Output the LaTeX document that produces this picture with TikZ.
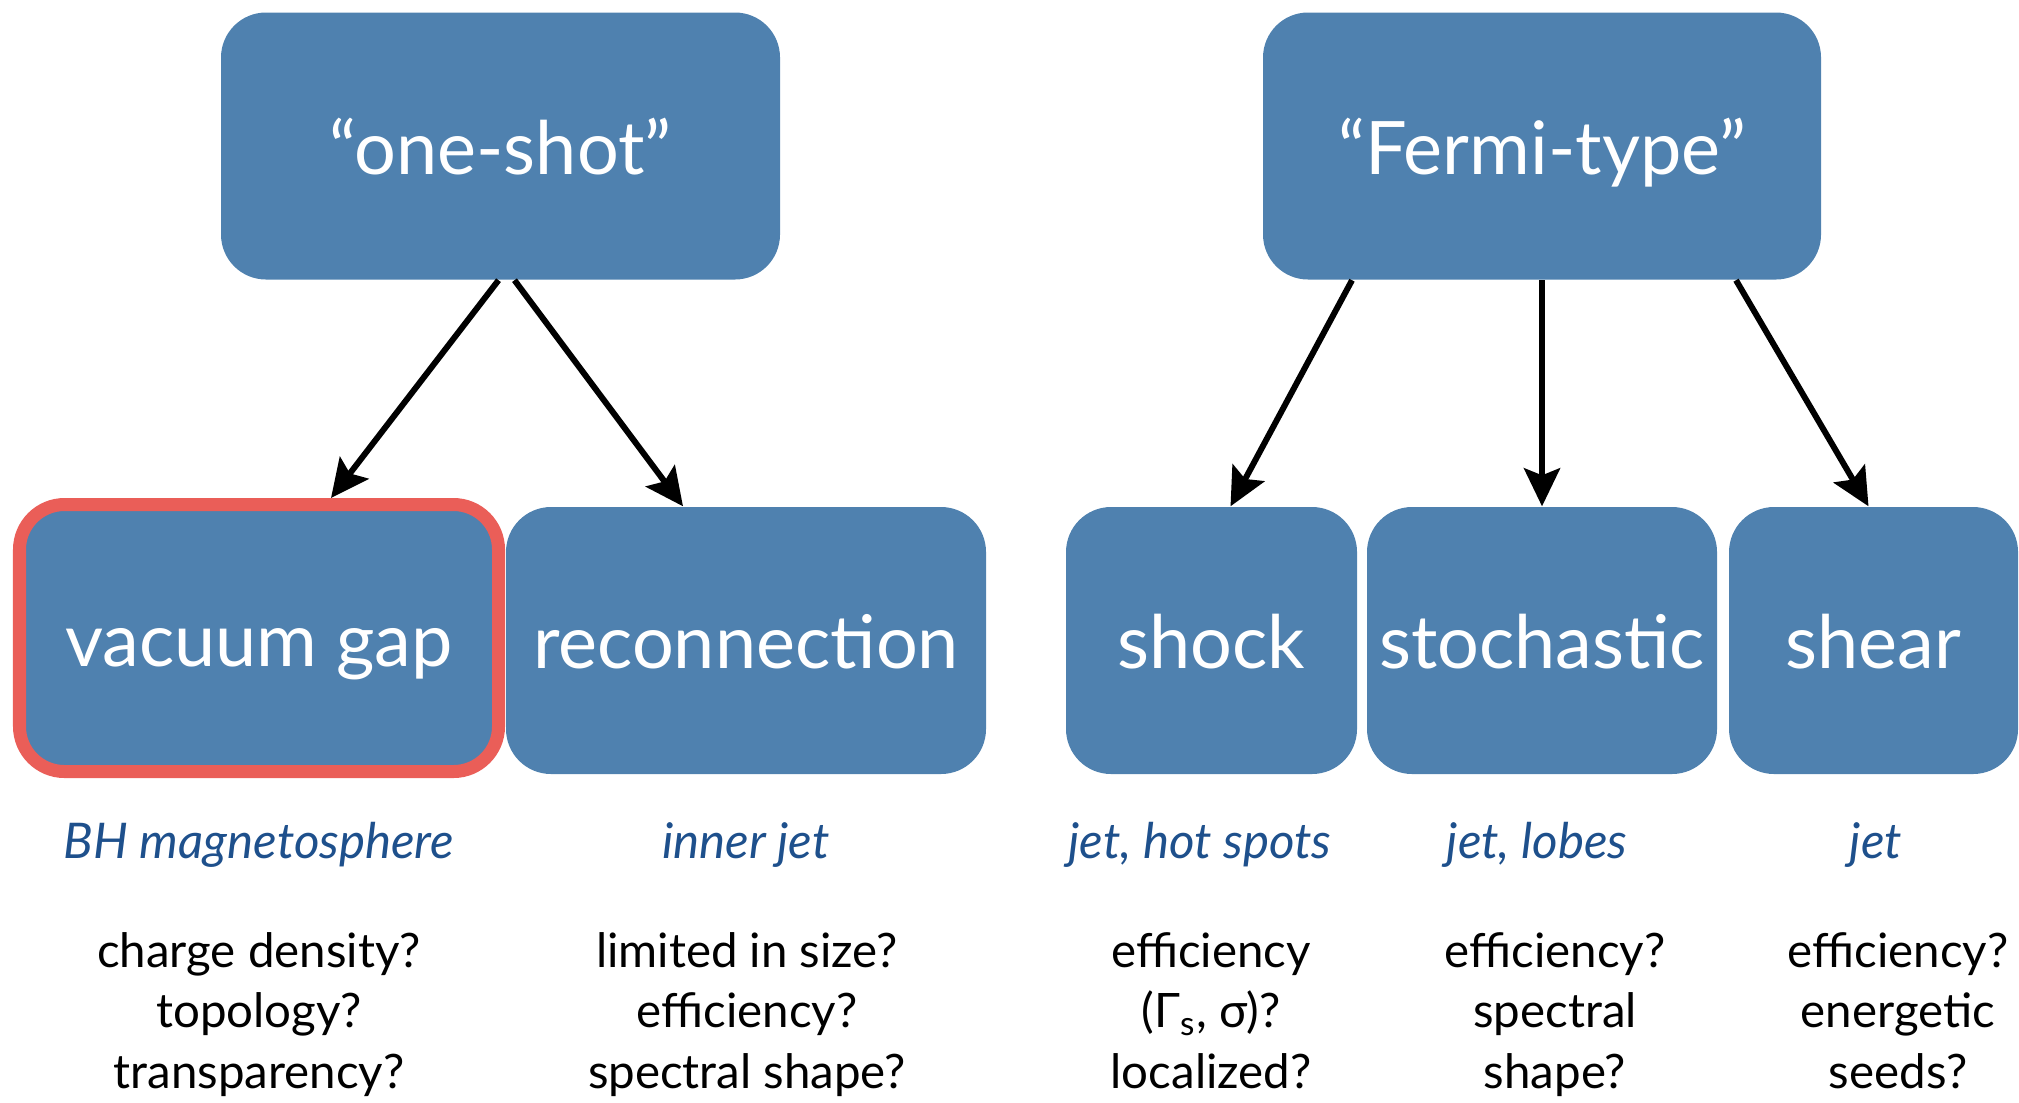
\documentclass[tikz,border=0pt]{standalone}
\usepackage{fontspec}
\setmainfont{Lato}
\usepackage{tikz}
\usetikzlibrary{arrows.meta,calc,positioning}
\definecolor{boxblue}{RGB}{79,129,175}
\definecolor{gapred}{RGB}{234,94,88}
\definecolor{placeblue}{RGB}{30,80,140}

\tikzset{
  mech/.style={fill=boxblue, rounded corners=0.45cm, minimum height=2.67cm, inner sep=0pt,
    text=white, text height=0.75cm, text depth=0.19cm, font=\fontsize{21}{25}\selectfont},
  where/.style={anchor=base, text=placeblue, font=\fontsize{14}{17}\selectfont\itshape},
  open/.style={anchor=base, align=center, font=\fontsize{13.5}{17.1}\selectfont},
  feed/.style={-{Stealth[length=0.38cm,width=0.36cm,inset=0.07cm]}, line width=1.7pt}
}

\begin{document}
\begin{tikzpicture}
\useasboundingbox (0,0) rectangle (20.19,-11.02);

\node[mech, minimum width=5.59cm] (oneshot) at (5.005,-1.46) {“one-shot”};
\node[mech, minimum width=5.58cm] (fermi) at (15.42,-1.46) {“Fermi-type”};

\node[mech, minimum width=4.79cm, draw=gapred, line width=0.13cm] (vacgap) at (2.59,-6.38) {vacuum gap};
\node[mech, minimum width=4.80cm] (recon) at (7.46,-6.405) {reconnection};
\node[mech, minimum width=2.91cm] (shock) at (12.115,-6.405) {shock};
\node[mech, minimum width=3.50cm] (stoch) at (15.42,-6.405) {stochastic};
\node[mech, minimum width=2.89cm] (shear) at (18.735,-6.405) {shear};

\draw[feed] ($(oneshot.south) + (-0.02, 0)$) to ($(vacgap.north) + (0.72, 0)$);
\draw[feed] ($(oneshot.south) + (0.14, 0)$) to ($(recon.north) + (-0.63, 0)$);
\draw[feed] ($(fermi.south) + (-1.90, 0)$) to ($(shock.north) + (0.19, 0)$);
\draw[feed] (fermi.south) to (stoch.north);
\draw[feed] ($(fermi.south) + (1.94, 0)$) to ($(shear.north) + (-0.05, 0)$);

\node[where] (vacwhere) at (2.59,-8.58) {BH magnetosphere};
\node[where] (reconwhere) at (7.46,-8.58) {inner jet};
\node[where] (shockwhere) at (12.00,-8.58) {jet, hot spots};
\node[where] (stochwhere) at (15.37,-8.58) {jet, lobes};
\node[where] (shearwhere) at (18.76,-8.58) {jet};

\node[open] (vacopen) at (2.59,-10.88) {charge density?\\topology?\\transparency?};
\node[open] (reconopen) at (7.47,-10.88) {limited in size?\\efficiency?\\spectral shape?};
\node[open] (shockopen) at (12.11,-10.88) {efficiency\\(Γ\textsubscript{s}, σ)?\\localized?};
\node[open] (stochopen) at (15.55,-10.88) {efficiency?\\spectral\\shape?};
\node[open] (shearopen) at (18.98,-10.88) {efficiency?\\energetic\\seeds?};
\end{tikzpicture}
\end{document}
